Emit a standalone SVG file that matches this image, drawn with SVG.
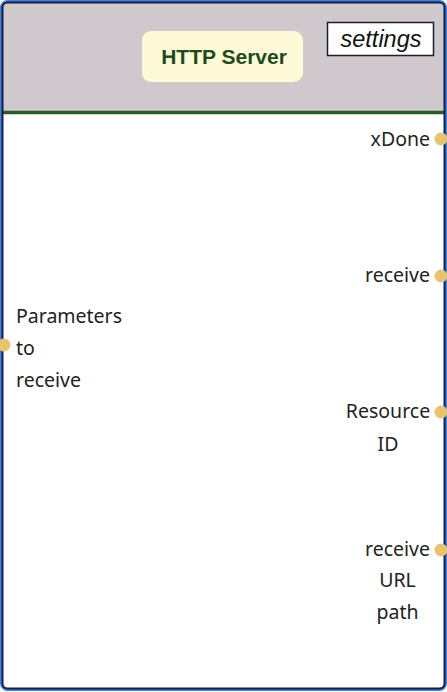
<svg xmlns="http://www.w3.org/2000/svg" width="447" height="692" viewBox="0 0 447 692">
<style>
.lbl{font-family:"Noto Sans","Open Sans",sans-serif;font-size:19.5px;fill:#222;}
.port{fill:#e8c46e;}
</style>
<rect width="447" height="692" fill="#ffffff"/>
<g id="block">
<rect x="1.5" y="1.5" width="444" height="688" rx="6" fill="#ffffff" stroke="#3b82e6" stroke-width="3"/>
<path d="M3,111 V8 Q3,3 8,3 H439 Q444,3 444,8 V111 Z" fill="#cfc8cd"/>
<line x1="3" y1="112.5" x2="444" y2="112.5" stroke="#275d24" stroke-width="3.5"/>
<rect x="2.5" y="2.5" width="442" height="686" rx="5" fill="none" stroke="#1c1c38" stroke-width="2"/>
</g>
<g id="title">
<rect x="142" y="31" width="161" height="51" rx="9" fill="#fefad8"/>
<text x="224" y="64" text-anchor="middle" font-family="'Liberation Sans',Arial,sans-serif" font-weight="bold" font-size="21" fill="#1e4a1e">HTTP Server</text>
</g>
<g id="settings">
<rect x="327.5" y="22.5" width="106" height="33" fill="#ffffff" stroke="#1c1c2a" stroke-width="1.5"/>
<text x="381" y="47" text-anchor="middle" font-family="'Liberation Sans',Arial,sans-serif" font-style="italic" font-size="23.5" fill="#111">settings</text>
</g>
<g id="port-params">
<circle class="port" cx="4" cy="345" r="6.5"/>
<text class="lbl" x="16" y="323">Parameters</text>
<text class="lbl" x="16" y="355">to</text>
<text class="lbl" x="16" y="387">receive</text>
</g>
<g id="port-xdone">
<circle class="port" cx="441" cy="139" r="6.5"/>
<text class="lbl" x="430" y="146" text-anchor="end">xDone</text>
</g>
<g id="port-receive">
<circle class="port" cx="441" cy="276" r="6.5"/>
<text class="lbl" x="430" y="282" text-anchor="end">receive</text>
</g>
<g id="port-resource">
<circle class="port" cx="441" cy="412" r="6.5"/>
<text class="lbl" x="388" y="418" text-anchor="middle">Resource</text>
<text class="lbl" x="388" y="451" text-anchor="middle">ID</text>
</g>
<g id="port-url">
<circle class="port" cx="441" cy="550" r="6.5"/>
<text class="lbl" x="397.5" y="556" text-anchor="middle">receive</text>
<text class="lbl" x="397.5" y="587" text-anchor="middle">URL</text>
<text class="lbl" x="397.5" y="619" text-anchor="middle">path</text>
</g>
<g id="connectors"></g>
</svg>
